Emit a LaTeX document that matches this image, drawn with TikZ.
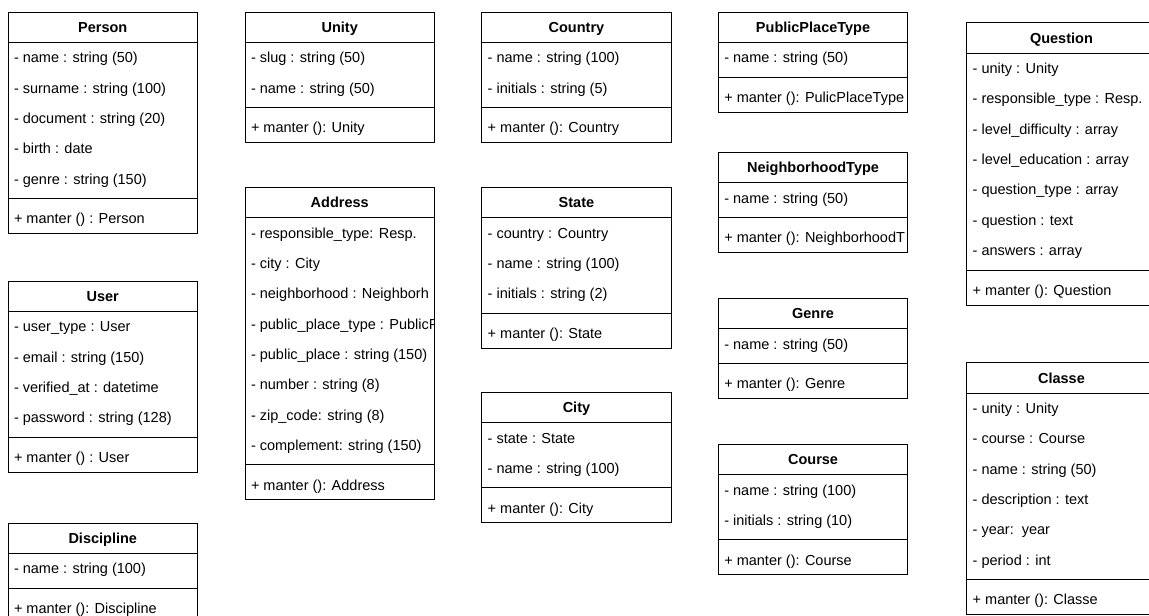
\documentclass[tikz,border=0pt]{standalone}
\usepackage{fontspec}
\setmainfont{Liberation Sans}
\tikzset{
  every node/.style={font=\fontsize{14.5}{17}\selectfont, inner sep=0pt, outer sep=0pt, text=black},
  frame/.style={draw=black, line width=1pt, inner sep=0pt, outer sep=0pt},
  rule/.style={draw=black, line width=1pt},
  ttl/.style={font=\fontsize{14.5}{17}\selectfont\bfseries, anchor=base},
  attr/.style={anchor=base west},
}
% #1 id, #2 left, #3 top, #4 title, #5 number of attributes, #6 attributes, #7 method
\newcommand{\umlclass}[7]{%
  \pgfmathsetmacro{\ucL}{#2}%
  \pgfmathsetmacro{\ucT}{#3}%
  \pgfmathsetmacro{\ucR}{#2+189.5}%
  \pgfmathsetmacro{\ucH}{#3+30.33}%
  \pgfmathsetmacro{\ucE}{#3+30.33+30.33*#5}%
  \pgfmathsetmacro{\ucS}{\ucE+4.67}%
  \pgfmathsetmacro{\ucB}{\ucE+9.33+30.33}%
  \pgfmathsetmacro{\ucHt}{\ucB-\ucT}%
  \node[frame, anchor=north west, minimum width=189.5pt, minimum height=\ucHt pt] (#1) at (\ucL,\ucT) {};
  \draw[rule] (\ucL,\ucH) -- (\ucR,\ucH);
  \draw[rule] (\ucL,\ucS) -- (\ucR,\ucS);
  \node[ttl] (#1-t) at (\ucL+94.75, \ucT+20.5) {#4};
  \begin{scope}
    \clip (\ucL,\ucT) rectangle (\ucR,\ucB);
    \foreach \a [count=\i] in {#6} {
      \node[attr] (#1-a\i) at (\ucL+6, {\ucH+20.5+30.33*(\i-1)}) {\a};
    }
    \node[attr] (#1-m) at (\ucL+6, \ucB-9.9) {#7};
  \end{scope}
}
\begin{document}
\begin{tikzpicture}[x=1pt, y=-1pt]
\useasboundingbox (0,0) rectangle (1149,616);
\fill[white] (0,0) rectangle (1149,616);
\clip (0,0) rectangle (1149,616);

\umlclass{person}{8}{12}{Person}{5}{- name : string (50), - surname : string (100), - document : string (20), - birth : date, - genre : string (150)}{+ manter () : Person}
\umlclass{user}{8}{281}{User}{4}{- user\_type : User, - email : string (150), - verified\_at : datetime, - password : string (128)}{+ manter () : User}
\umlclass{discipline}{8}{523}{Discipline}{1}{- name : string (100)}{+ manter (): Discipline}

\umlclass{unity}{245}{12}{Unity}{2}{- slug : string (50), - name : string (50)}{+ manter (): Unity}
\umlclass{address}{245}{187.3}{Address}{8}{- responsible\_type: Resp., - city : City, - neighborhood : Neighborh, - public\_place\_type : PublicP, - public\_place : string (150), - number : string (8), - zip\_code: string (8), - complement: string (150)}{+ manter (): Address}

\umlclass{country}{481.7}{12}{Country}{2}{- name : string (100), - initials : string (5)}{+ manter (): Country}
\umlclass{state}{481.7}{187.3}{State}{3}{- country : Country, - name : string (100), - initials : string (2)}{+ manter (): State}
\umlclass{city}{481.7}{392.3}{City}{2}{- state : State, - name : string (100)}{+ manter (): City}

\umlclass{ppt}{718.3}{12}{PublicPlaceType}{1}{- name : string (50)}{+ manter (): PulicPlaceType}
\umlclass{nht}{718.3}{152.3}{NeighborhoodType}{1}{- name : string (50)}{+ manter (): NeighborhoodT}
\umlclass{genre}{718.3}{298.3}{Genre}{1}{- name : string (50)}{+ manter (): Genre}
\umlclass{course}{718.3}{444.3}{Course}{2}{- name : string (100), - initials : string (10)}{+ manter (): Course}

\umlclass{question}{966.7}{22.7}{Question}{7}{- unity : Unity, - responsible\_type : Resp., - level\_difficulty : array, - level\_education : array, - question\_type : array, - question : text, - answers : array}{+ manter (): Question}
\umlclass{classe}{966.7}{362.7}{Classe}{6}{- unity : Unity, - course : Course, - name : string (50), - description : text, - year:\ \ year, - period : int}{+ manter (): Classe}
\end{tikzpicture}
\end{document}
